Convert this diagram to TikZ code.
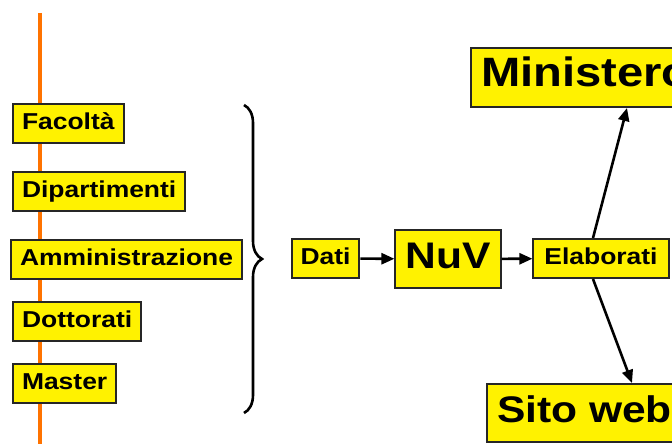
\documentclass[tikz,border=0pt]{standalone}
\usepackage{fontspec}
\newfontfamily\boxfont{Liberation Sans}[FakeStretch=1.15]
\usetikzlibrary{arrows.meta,decorations.pathreplacing}
\begin{document}
\begin{tikzpicture}[x=1pt,y=1pt,
  box/.style = {draw=black!85, line width=2pt, fill=yellow,
    inner xsep=9pt, inner ysep=0pt, text height=17pt, text depth=5pt,
    minimum height=39pt, font=\boxfont\bfseries\fontsize{23}{26}\selectfont},
  bigbox/.style = {box, inner xsep=10pt, text height=27pt, text depth=8pt,
    minimum height=58pt, font=\boxfont\bfseries\fontsize{37}{40}\selectfont},
  arr/.style = {line width=2.6pt, -{Triangle[length=13pt,width=11pt]}}]
  \useasboundingbox (0,0) rectangle (672,444);
  \clip (0,0) rectangle (672,444);
  \fill[white] (0,0) rectangle (672,444);
  \draw[line width=3.5pt, orange!90!red] (40,431) -- (40,0);
  \node[box, anchor=west] (fac) at (12,320) {Facoltà};
  \node[box, anchor=west] (dip) at (12,252.5) {Dipartimenti};
  \node[box, anchor=west] (amm) at (10,184.5) {Amministrazione};
  \node[box, anchor=west] (dot) at (12,122) {Dottorati};
  \node[box, anchor=west] (mas) at (12,60) {Master};
  \draw[line width=2.6pt, decorate, decoration={brace, amplitude=18pt}]
    (244,339) -- (244,31);
  \node[box] (dati) at (325.5,185.5) {Dati};
  \node[bigbox] (nuv) at (448,185) {NuV};
  \node[box, inner xsep=11pt] (elab) at (601,185.5) {Elaborati};
  \node[bigbox, anchor=west, minimum height=59pt,
    font=\boxfont\bfseries\fontsize{41}{44}\selectfont] (min) at (470,366.5) {Ministero};
  \node[bigbox, anchor=west] (web) at (486,31) {Sito web};
  \draw[arr] (dati) -- (nuv);
  \draw[arr] (nuv) -- (elab);
  \draw[arr] ([xshift=-8pt]elab.north) -- ([xshift=157pt]min.south west);
  \draw[arr] ([xshift=-8pt]elab.south) -- ([xshift=146pt]web.north west);
\end{tikzpicture}
\end{document}
